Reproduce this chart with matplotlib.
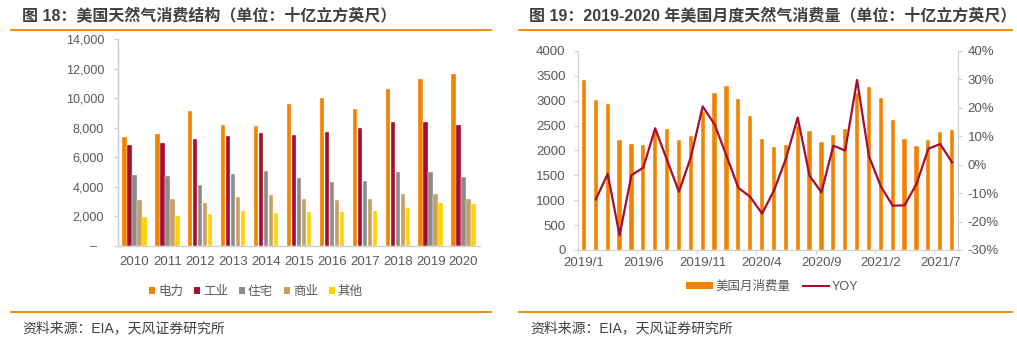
import numpy as np
import matplotlib
matplotlib.use("Agg")
import matplotlib.pyplot as plt
from matplotlib.lines import Line2D
from matplotlib.patches import Patch
from matplotlib.ticker import FuncFormatter, FixedLocator

CJK = ['Liberation Sans', 'Noto Sans CJK SC', 'DejaVu Sans']
plt.rcParams['font.family'] = CJK

# ---- annual consumption by sector (bcf) ----
years = ['2010', '2011', '2012', '2013', '2014', '2015', '2016', '2017', '2018', '2019', '2020']
sectors = ['电力', '工业', '住宅', '商业', '其他']
power = [7387, 7574, 9111, 8191, 8146, 9613, 10003, 9266, 10628, 11288, 11617]
industrial = [6826, 6994, 7224, 7425, 7646, 7522, 7729, 7957, 8415, 8420, 8205]
residential = [4782, 4714, 4150, 4897, 5087, 4613, 4346, 4412, 4996, 5019, 4666]
commercial = [3103, 3155, 2895, 3295, 3466, 3202, 3110, 3164, 3514, 3511, 3164]
other = [1970, 2030, 2170, 2370, 2240, 2330, 2280, 2370, 2600, 2910, 2870]
sector_colors = ['#F08300', '#A50D33', '#8C8C8C', '#C9A064', '#FFD200']

# ---- monthly consumption and yoy ----
months = ['2019/%d' % m for m in range(1, 13)] + ['2020/%d' % m for m in range(1, 13)] + \
         ['2021/%d' % m for m in range(1, 9)]
monthly = [3420, 3013, 2927, 2213, 2133, 2113, 2413, 2427, 2213, 2300, 2780, 3162,
           3290, 3028, 2693, 2235, 2064, 2120, 2493, 2400, 2173, 2313, 2427, 3160,
           3280, 3047, 2613, 2231, 2084, 2204, 2379, 2412]
yoy = [np.nan, -12.2, -3.2, -24.8, -3.7, -1.0, 12.8, 1.6, -9.5, 2.6, 20.5, 14.2,
       3.2, -8.1, -11.3, -17.2, -9.1, 2.0, 16.6, -3.9, -9.7, 6.7, 5.0, 29.8,
       3.0, -7.6, -14.4, -14.3, -6.8, 5.6, 7.3, 0.8]

orange = '#F08300'
crimson = '#A50D33'
label_gray = '#595959'
spine_gray = '#D0D0D0'

fig = plt.figure(figsize=(10.17, 3.43), dpi=100)

# titles and separators
fig.text(22 / 1017, 1 - 16 / 343, '图 18：美国天然气消费结构（单位：十亿立方英尺）',
         fontsize=11.5, fontweight='bold', color='#404040', va='center', ha='left')
fig.text(529 / 1017, 1 - 16 / 343, '图 19：2019-2020 年美国月度天然气消费量（单位：十亿立方英尺）',
         fontsize=11.5, fontweight='bold', color='#404040', va='center', ha='left')
for x0, x1 in [(11, 491), (519, 1012)]:
    for y in (30, 312):
        fig.add_artist(Line2D([x0 / 1017, x1 / 1017], [1 - y / 343, 1 - y / 343],
                              color=orange, lw=1.3, transform=fig.transFigure))
for x0 in (22, 530):
    fig.text(x0 / 1017, 1 - 328 / 343, '资料来源：EIA，天风证券研究所',
             fontsize=10, color='#404040', va='center', ha='left')

# ---- left: grouped bars ----
ax = fig.add_axes([118 / 1017, 1 - 246 / 343, 362 / 1017, 207 / 343])
x = np.arange(len(years))
series = [power, industrial, residential, commercial, other]
bw = 0.135
step = 0.152
for i, (vals, c) in enumerate(zip(series, sector_colors)):
    ax.bar(x + (i - 2) * step, vals, width=bw, color=c, edgecolor='white', linewidth=0.25)
ax.set_xlim(-0.5, len(years) - 0.5)
ax.set_ylim(0, 14000)
ax.set_yticks(np.arange(0, 14001, 2000))
ax.yaxis.set_major_formatter(FuncFormatter(lambda v, p: '–  ' if v == 0 else '{:,.0f}'.format(v)))
ax.set_xticks(x)
ax.set_xticklabels(years)
for s in ('top', 'right'):
    ax.spines[s].set_visible(False)
for s in ('left', 'bottom'):
    ax.spines[s].set_color(spine_gray)
    ax.spines[s].set_linewidth(1.0)
ax.tick_params(axis='y', length=3, color=spine_gray, labelsize=9, labelcolor=label_gray, pad=7)
ax.tick_params(axis='x', length=0, labelsize=9.5, labelcolor=label_gray, pad=7)

handles = [Patch(facecolor=c, edgecolor='none') for c in sector_colors]
fig.legend(handles, sectors, loc='center', bbox_to_anchor=(256 / 1017, 1 - 292 / 343),
           ncol=5, frameon=False, fontsize=9, handlelength=0.45, handleheight=0.45,
           handletextpad=0.25, columnspacing=0.9, labelcolor=label_gray)

# ---- right: monthly bars + yoy line ----
ax1 = fig.add_axes([578 / 1017, 1 - 250 / 343, 380 / 1017, 199 / 343])
xm = np.arange(len(months))
ax1.bar(xm, monthly, width=0.36, color=orange, edgecolor='white', linewidth=0.3)
ax1.set_xlim(-0.5, len(months) - 0.5)
ax1.set_ylim(0, 4000)
ax1.set_yticks(np.arange(0, 4001, 500))
ax1.set_xticks(xm[::5])
ax1.set_xticklabels(months[::5])
ax1.xaxis.set_minor_locator(FixedLocator(np.arange(-0.5, len(months), 5)))
ax1.tick_params(axis='x', which='major', length=0, labelsize=9.5, labelcolor=label_gray, pad=5)
ax1.tick_params(axis='x', which='minor', length=3, color=spine_gray)
ax1.tick_params(axis='y', length=3, color=spine_gray, labelsize=9.5, labelcolor=label_gray, pad=6)

ax2 = ax1.twinx()
ax2.plot(xm, yoy, color=crimson, lw=1.6)
ax2.set_ylim(-30, 40)
ax2.set_yticks(np.arange(-30, 41, 10))
ax2.yaxis.set_major_formatter(FuncFormatter(lambda v, p: '%d%%' % v))
ax2.tick_params(axis='y', length=3, color=spine_gray, labelsize=9.5, labelcolor=label_gray, pad=4)
for a in (ax1, ax2):
    a.spines['top'].set_visible(False)
    for s in ('left', 'right', 'bottom'):
        a.spines[s].set_color(spine_gray)
ax1.spines['right'].set_visible(False)
ax2.spines['left'].set_visible(False)
ax2.spines['bottom'].set_visible(False)

h2 = [Patch(facecolor=orange, edgecolor='none'), Line2D([], [], color=crimson, lw=1.5)]
fig.legend(h2, ['美国月消费量', 'YOY'], loc='center', bbox_to_anchor=(772 / 1017, 1 - 287 / 343),
           ncol=2, frameon=False, fontsize=9, handlelength=2.1, handleheight=0.4,
           handletextpad=0.2, columnspacing=1.0, labelcolor=label_gray)

fig.savefig('out.png', dpi=100)
